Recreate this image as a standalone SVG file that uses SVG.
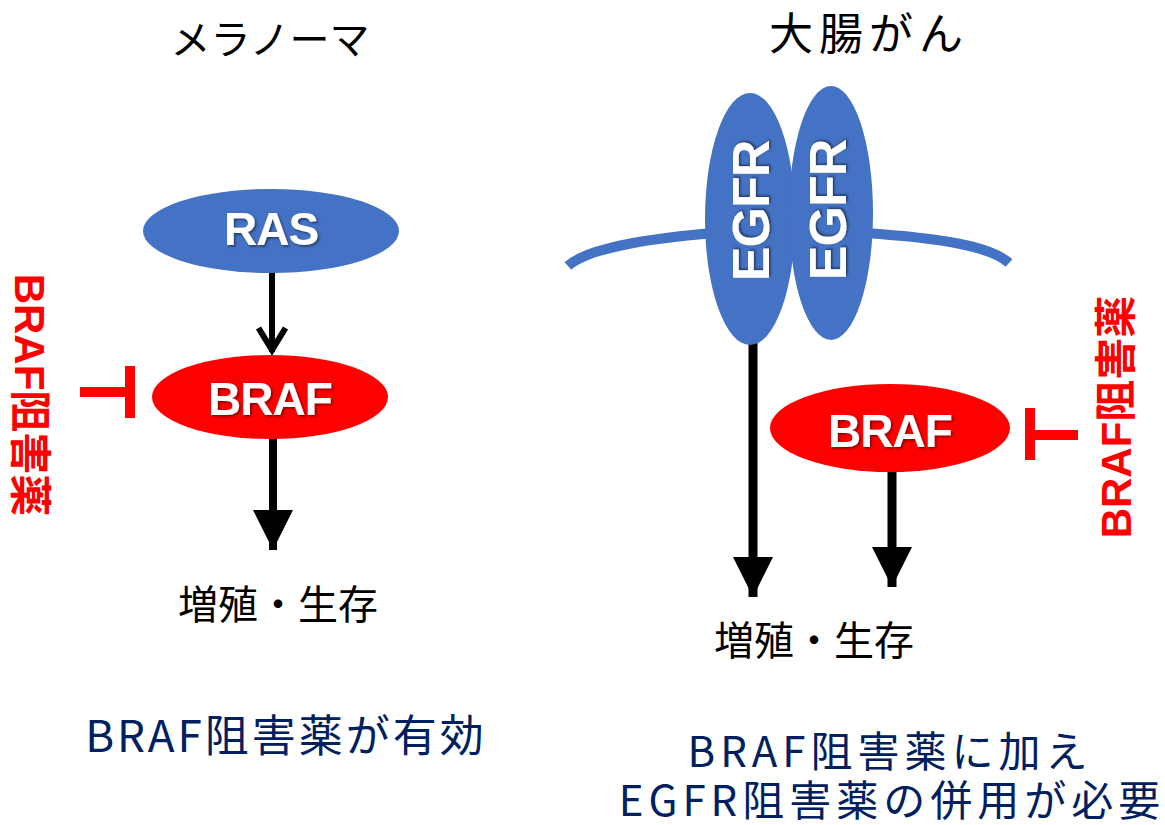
<svg xmlns="http://www.w3.org/2000/svg" width="1165" height="825" viewBox="0 0 1165 825">
<style>
.blue{fill:#4472C4}
.red{fill:#FF0000}
.lbl{font-family:"Liberation Sans",Arial,sans-serif;font-weight:bold;fill:#fff;text-anchor:middle;filter:url(#sh)}
.jp{font-family:"Noto Sans CJK JP","Liberation Sans",sans-serif;fill:#000;text-anchor:middle}
.nv{font-family:"Noto Sans CJK JP","Liberation Sans",sans-serif;fill:#002060;text-anchor:middle}
.drug{font-family:"Liberation Sans","Noto Sans CJK JP",sans-serif;font-weight:bold;fill:#FF0000;text-anchor:middle;font-size:42px}
.inh{fill:#FF0000}
.conn{stroke:#000;fill:none}
</style>
<defs>
<filter id="sh" x="-20%" y="-20%" width="140%" height="140%">
<feDropShadow dx="1.5" dy="1.5" stdDeviation="1" flood-color="#000" flood-opacity="0.5"/>
</filter>
<marker id="tri" markerUnits="userSpaceOnUse" viewBox="0 0 40 40" markerWidth="40" markerHeight="40" refX="40" refY="20" orient="auto">
<path d="M0,0 L40,20 L0,40 Z" fill="#000"/>
</marker>
<marker id="open" markerUnits="userSpaceOnUse" viewBox="-30 -20 40 40" markerWidth="40" markerHeight="40" refX="0" refY="0" orient="auto" overflow="visible">
<path d="M-24,-13.5 L-2,0 L-24,13.5" fill="none" stroke="#000" stroke-width="6"/>
</marker>
</defs>
<rect width="1165" height="825" fill="#fff"/>

<!-- titles -->
<g id="title-left"><text class="jp" x="270" y="54" font-size="40">メラノーマ</text></g>
<g id="title-right"><text class="jp" x="869" y="50" font-size="44" letter-spacing="6">大腸がん</text></g>

<!-- membrane -->
<g id="membrane" fill="none" stroke="#4472C4" stroke-width="10">
<path d="M568,266 C585,250 640,239 715,233"/>
<path d="M865,233 C940,238 990,246 1009,263"/>
</g>

<!-- connectors -->
<g id="connectors">
<line class="conn" x1="272" y1="272" x2="272" y2="352" stroke-width="6" marker-end="url(#open)"/>
<line class="conn" x1="273" y1="438" x2="273" y2="550" stroke-width="8" marker-end="url(#tri)"/>
<line class="conn" x1="753" y1="330" x2="753" y2="597" stroke-width="9" marker-end="url(#tri)"/>
<line class="conn" x1="892" y1="470" x2="892" y2="587" stroke-width="9" marker-end="url(#tri)"/>
</g>

<!-- nodes -->
<g id="ras">
<ellipse class="blue" cx="271" cy="231" rx="128" ry="42"/>
<text class="lbl" x="271" y="245" font-size="46" letter-spacing="-1">RAS</text>
</g>
<g id="braf-left">
<ellipse class="red" cx="270" cy="397" rx="118" ry="42"/>
<text class="lbl" x="270" y="415" font-size="46" letter-spacing="-1">BRAF</text>
</g>
<g id="egfr-1">
<ellipse class="blue" cx="750" cy="219" rx="45" ry="126"/>
<text class="lbl" font-size="52" letter-spacing="-1" transform="translate(769,211) rotate(-90)">EGFR</text>
</g>
<g id="egfr-2">
<ellipse class="blue" cx="831" cy="213" rx="42" ry="127"/>
<text class="lbl" font-size="52" letter-spacing="-1" transform="translate(846,210) rotate(-90)">EGFR</text>
</g>
<g id="braf-right">
<ellipse class="red" cx="890" cy="428" rx="120" ry="44"/>
<text class="lbl" x="890" y="447" font-size="46" letter-spacing="-1">BRAF</text>
</g>

<!-- inhibitors -->
<g id="inhibitor-left">
<rect class="inh" x="80" y="387" width="50" height="10"/>
<rect class="inh" x="125" y="366" width="10" height="52"/>
<text class="drug" transform="translate(15,395) rotate(90)">BRAF阻害薬</text>
</g>
<g id="inhibitor-right">
<rect class="inh" x="1025" y="430" width="53" height="10"/>
<rect class="inh" x="1025" y="408" width="10" height="52"/>
<text class="drug" transform="translate(1131,417) rotate(-90)">BRAF阻害薬</text>
</g>

<!-- outcomes -->
<g id="outcome-left"><text class="jp" x="278" y="619" font-size="40">増殖・生存</text></g>
<g id="outcome-right"><text class="jp" x="814" y="655" font-size="40">増殖・生存</text></g>

<!-- captions -->
<g id="caption-left"><text class="nv" x="286" y="752" font-size="44" letter-spacing="3">BRAF阻害薬が有効</text></g>
<g id="caption-right">
<text class="nv" x="890" y="767" font-size="42" letter-spacing="5">BRAF阻害薬に加え</text>
<text class="nv" x="892" y="816" font-size="42" letter-spacing="5">EGFR阻害薬の併用が必要</text>
</g>
</svg>
